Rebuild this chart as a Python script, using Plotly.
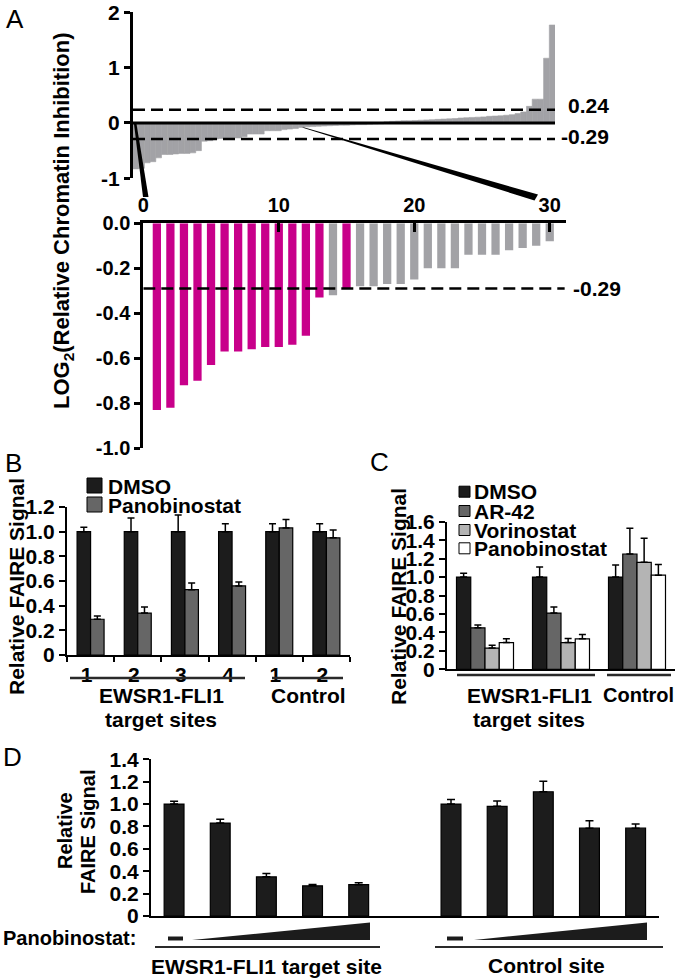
import plotly.graph_objects as go

W, H = 677, 978

# ---------------- DATA ----------------
# Panel A: sorted log2(relative chromatin inhibition) for all sites
a_values = [-0.83, -0.82, -0.72, -0.70, -0.63, -0.57, -0.57, -0.56, -0.55, -0.55,
            -0.54, -0.50, -0.33, -0.32, -0.29, -0.28, -0.28, -0.27, -0.27, -0.25,
            -0.20, -0.20, -0.20, -0.14, -0.14, -0.14, -0.12, -0.11, -0.10, -0.08,
            -0.07, -0.065, -0.06, -0.055, -0.05, -0.045, -0.04, -0.04, -0.035, -0.03,
            -0.03, -0.025, -0.02, -0.015,
            0.02, 0.03, 0.035, 0.04, 0.04, 0.045, 0.05, 0.055, 0.06, 0.065,
            0.07, 0.075, 0.08, 0.09, 0.095, 0.10, 0.105, 0.11, 0.12, 0.125,
            0.13, 0.14, 0.15, 0.17, 0.20, 0.30, 0.43, 0.43, 1.17, 1.77]
a_zoom_n = 30
a_highlight = [1, 2, 3, 4, 5, 6, 7, 8, 9, 10, 11, 12, 13, 15]
a_thresholds = [0.24, -0.29]
a_top_ticks = [-1, 0, 1, 2]
a_top_ticktext = ["-1", "0", "1", "2"]
a_zoom_xticks = [0, 10, 20, 30]
a_zoom_yticks = [0, -0.2, -0.4, -0.6, -0.8, -1.0]
a_zoom_yticktext = ["0.0", "-0.2", "-0.4", "-0.6", "-0.8", "-1.0"]

# Panel B
b_sites = ["1", "2", "3", "4", "1", "2"]
b_dmso = [1.0, 1.0, 1.0, 1.0, 1.0, 1.0]
b_dmso_err = [0.035, 0.11, 0.135, 0.065, 0.065, 0.065]
b_pano = [0.29, 0.34, 0.53, 0.56, 1.03, 0.95]
b_pano_err = [0.027, 0.05, 0.054, 0.032, 0.068, 0.063]
b_yticks = [0, 0.2, 0.4, 0.6, 0.8, 1.0, 1.2]
b_yticktext = ["0", "0.2", "0.4", "0.6", "0.8", "1.0", "1.2"]

# Panel C
c_groups = ["EWSR1-FLI1 site 1", "EWSR1-FLI1 site 2", "Control"]
c_dmso = [1.0, 1.0, 1.0]
c_dmso_err = [0.04, 0.11, 0.13]
c_ar42 = [0.45, 0.61, 1.25]
c_ar42_err = [0.03, 0.065, 0.28]
c_vor = [0.23, 0.29, 1.16]
c_vor_err = [0.03, 0.045, 0.26]
c_pano = [0.29, 0.33, 1.02]
c_pano_err = [0.04, 0.047, 0.115]
c_yticks = [0, 0.2, 0.4, 0.6, 0.8, 1.0, 1.2, 1.4, 1.6]
c_yticktext = ["0", "0.2", "0.4", "0.6", "0.8", "1.0", "1.2", "1.4", "1.6"]

# Panel D (increasing panobinostat dose)
d_ews = [1.0, 0.83, 0.35, 0.27, 0.28]
d_ews_err = [0.025, 0.035, 0.03, 0.012, 0.018]
d_ctrl = [1.0, 0.98, 1.11, 0.785, 0.785]
d_ctrl_err = [0.04, 0.047, 0.095, 0.066, 0.036]
d_yticks = [0, 0.2, 0.4, 0.6, 0.8, 1.0, 1.2, 1.4]
d_yticktext = ["0", "0.2", "0.4", "0.6", "0.8", "1.0", "1.2", "1.4"]

# ---------------- HELPERS ----------------
def X(p):
    return p / W

def Y(p):
    return 1 - p / H

FAM = "Liberation Sans, Arial, Helvetica, sans-serif"

def bf(size):
    return dict(family=FAM, size=size, color="black", weight="bold")

MAGENTA = "#C8008A"
GRAY = "#A2A2A6"
BLACKBAR = "#1c1c1c"
DARKGRAY = "#666666"
LIGHTGRAY = "#B4B4B4"

fig = go.Figure()

# ---- Panel A top ----
fig.add_trace(go.Bar(x=list(range(1, len(a_values) + 1)), y=a_values, width=1.0,
                     marker=dict(color=GRAY, line=dict(color=GRAY, width=0.6)),
                     xaxis="x", yaxis="y", showlegend=False))

# ---- Panel A zoom ----
zoom_x = list(range(1, a_zoom_n + 1))
zoom_colors = [MAGENTA if i in a_highlight else GRAY for i in zoom_x]
fig.add_trace(go.Bar(x=zoom_x, y=a_values[:a_zoom_n], width=0.61,
                     marker=dict(color=zoom_colors, line=dict(width=0)),
                     xaxis="x2", yaxis="y2", showlegend=False))

# ---- Panel B ----
ebar = dict(type="data", symmetric=False, color="black", thickness=1.5, width=3.5)
bx = list(range(len(b_sites)))
fig.add_trace(go.Bar(x=bx, y=b_dmso, width=0.286, offset=-0.286, name="DMSO",
                     marker=dict(color=BLACKBAR, line=dict(color="black", width=1.2)),
                     error_y=dict(ebar, array=b_dmso_err, arrayminus=[0] * 6),
                     xaxis="x3", yaxis="y3", showlegend=False))
fig.add_trace(go.Bar(x=bx, y=b_pano, width=0.286, offset=0.0, name="Panobinostat",
                     marker=dict(color=DARKGRAY, line=dict(color="black", width=1.2)),
                     error_y=dict(ebar, array=b_pano_err, arrayminus=[0] * 6),
                     xaxis="x3", yaxis="y3", showlegend=False))

# ---- Panel C ----
cx = list(range(len(c_groups)))
c_series = [("DMSO", c_dmso, c_dmso_err, BLACKBAR),
            ("AR-42", c_ar42, c_ar42_err, DARKGRAY),
            ("Vorinostat", c_vor, c_vor_err, LIGHTGRAY),
            ("Panobinostat", c_pano, c_pano_err, "white")]
cw = 0.1875
for k, (nm, vals, errs, col) in enumerate(c_series):
    fig.add_trace(go.Bar(x=cx, y=vals, width=cw, offset=-2 * cw + k * cw, name=nm,
                         marker=dict(color=col, line=dict(color="black", width=1.2)),
                         error_y=dict(ebar, array=errs, arrayminus=[0] * 3),
                         xaxis="x4", yaxis="y4", showlegend=False))

# ---- Panel D ----
ebar_d = dict(type="data", symmetric=False, color="black", thickness=1.5, width=4)
fig.add_trace(go.Bar(x=list(range(0, 5)), y=d_ews, width=0.43,
                     marker=dict(color=BLACKBAR, line=dict(color="black", width=1.2)),
                     error_y=dict(ebar_d, array=d_ews_err, arrayminus=[0] * 5),
                     xaxis="x5", yaxis="y5", showlegend=False))
fig.add_trace(go.Bar(x=list(range(6, 11)), y=d_ctrl, width=0.43,
                     marker=dict(color=BLACKBAR, line=dict(color="black", width=1.2)),
                     error_y=dict(ebar_d, array=d_ctrl_err, arrayminus=[0] * 5),
                     xaxis="x5", yaxis="y5", showlegend=False))

# ---------------- AXES ----------------
def yax(domain, rng, anchor, tickvals, ticktext, lw=2, size=20):
    return dict(domain=domain, range=rng, anchor=anchor, showline=True, linewidth=lw,
                linecolor="black", ticks="outside", ticklen=6, tickwidth=lw, tickcolor="black",
                tickvals=tickvals, ticktext=ticktext, tickfont=bf(size), showgrid=False,
                zeroline=False, fixedrange=True, automargin=False)

layout = dict(
    template="none",
    width=W, height=H, margin=dict(l=0, r=0, t=0, b=0, pad=0), autosize=False,
    paper_bgcolor="white", plot_bgcolor="white", barmode="overlay", showlegend=False,
    xaxis=dict(domain=[X(133), X(555)], range=[0.5, len(a_values) + 0.5], anchor="y",
               visible=False, showgrid=False, zeroline=False, automargin=False),
    yaxis=yax([Y(178.3), Y(12.3)], [-1, 2], "x", a_top_ticks, a_top_ticktext, lw=3, size=21),
    xaxis2=dict(domain=[X(143.3), X(566)], range=[0, 31.2], anchor="y2", side="top",
                showline=True, linewidth=3, linecolor="black", ticks="inside", ticklen=9,
                tickwidth=3, tickcolor="black", tickvals=a_zoom_xticks, tickfont=bf(20),
                showgrid=False, zeroline=False, automargin=False),
    yaxis2=yax([Y(448.3), Y(223.3)], [-1, 0], "x2", a_zoom_yticks, a_zoom_yticktext, lw=3, size=20),
    xaxis3=dict(domain=[X(67), X(350)], range=[-0.5, 5.5], anchor="y3", showline=True,
                linewidth=2, linecolor="black", tickvals=bx, ticktext=b_sites, ticks="",
                tickfont=bf(21), ticklabelshift=-4,
                minor=dict(tickvals=[i - 0.5 for i in range(7)], ticks="outside", ticklen=5,
                           tickwidth=2, tickcolor="black", showgrid=False),
                showgrid=False, zeroline=False, automargin=False),
    yaxis3=yax([Y(655), Y(507)], [0, 1.2], "x3", b_yticks, b_yticktext, size=21),
    xaxis4=dict(domain=[X(447), X(675)], range=[-0.5, 2.5], anchor="y4", showline=True,
                linewidth=2, linecolor="black", showticklabels=False, ticks="",
                showgrid=False, zeroline=False, automargin=False),
    yaxis4=yax([Y(669.3), Y(521.7)], [0, 1.6], "x4", c_yticks, c_yticktext, size=21),
    xaxis5=dict(domain=[X(151), X(658.7)], range=[-0.5, 10.5], anchor="y5", showline=True,
                linewidth=2, linecolor="black", showticklabels=False, ticks="",
                showgrid=False, zeroline=False, automargin=False),
    yaxis5=yax([Y(916), Y(759.3)], [0, 1.4], "x5", d_yticks, d_yticktext, size=21),
)
fig.update_layout(**layout)

# ---------------- SHAPES ----------------
shapes = []
DASH = "12px,6px"
shapes.append(dict(type="line", xref="x", yref="y", x0=0.5, x1=len(a_values) + 0.5, y0=0, y1=0,
                   line=dict(color="black", width=3), layer="above"))
for t in a_thresholds:
    shapes.append(dict(type="line", xref="x", yref="y", x0=0.5, x1=len(a_values) + 0.5, y0=t, y1=t,
                       line=dict(color="black", width=2.5, dash=DASH), layer="above"))
shapes.append(dict(type="line", xref="x2", yref="y2", x0=0, x1=31.1, y0=a_thresholds[1],
                   y1=a_thresholds[1], line=dict(color="black", width=2.5, dash=DASH), layer="above"))


def poly(pts, col="black"):
    d = "M " + " L ".join(f"{X(px)},{Y(py)}" for px, py in pts) + " Z"
    return dict(type="path", xref="paper", yref="paper", path=d,
                fillcolor=col, line=dict(width=0), layer="above")


# callout wedges
shapes.append(poly([(134, 124), (136.5, 124), (148.5, 197), (143, 197)]))
shapes.append(poly([(302, 127.5), (304.5, 127.5), (538, 194.5), (534.5, 200.5)]))

# legend swatches B
for (y0, col) in [(478, BLACKBAR), (497, DARKGRAY)]:
    shapes.append(dict(type="rect", xref="paper", yref="paper", x0=X(87), x1=X(102),
                       y0=Y(y0 + 15), y1=Y(y0), fillcolor=col, line=dict(color="black", width=1)))
# legend swatches C
for (yc, col) in [(491.7, BLACKBAR), (511, DARKGRAY), (530, LIGHTGRAY), (548.3, "white")]:
    shapes.append(dict(type="rect", xref="paper", yref="paper", x0=X(459), x1=X(470),
                       y0=Y(yc + 5.5), y1=Y(yc - 5.5), fillcolor=col,
                       line=dict(color="black", width=1)))


def hline(x0, x1, y, w=2.5, col="#2a2a2a"):
    return dict(type="line", xref="paper", yref="paper", x0=X(x0), x1=X(x1), y0=Y(y), y1=Y(y),
                line=dict(color=col, width=w))


shapes += [hline(70, 245, 678), hline(272, 343, 678),
           hline(457, 595, 675), hline(607, 671, 675),
           hline(155, 380, 947, w=2), hline(435, 663, 947, w=2)]

for (d0, d1, t0, t1) in [(168, 183, 192, 370), (447, 463, 474, 647)]:
    shapes.append(dict(type="rect", xref="paper", yref="paper", x0=X(d0), x1=X(d1),
                       y0=Y(940.5), y1=Y(936.5), fillcolor="#1c1c1c", line=dict(width=0)))
    shapes.append(poly([(t0, 940), (t1, 940), (t1, 922.5)], col="#1c1c1c"))

fig.update_layout(shapes=shapes)

# ---------------- ANNOTATIONS ----------------
ann = []


def txt(s, x, y, size, xanchor="center", yanchor="middle", angle=0, bold=True):
    font = bf(size) if bold else dict(family=FAM, size=size, color="black")
    return dict(text=s, x=X(x), y=Y(y), xref="paper", yref="paper", xanchor=xanchor,
                yanchor=yanchor, textangle=angle, showarrow=False, font=font)


ann += [txt("A", 4, 19, 26, xanchor="left", bold=False),
        txt("B", 3, 463, 26, xanchor="left", bold=False),
        txt("C", 368, 462, 26, xanchor="left", bold=False),
        txt("D", 1, 757, 26, xanchor="left", bold=False)]

ann.append(txt("LOG<sub>2</sub>(Relative Chromatin Inhibition)", 63, 221, 22, angle=-90))
ann.append(txt("0.24", 611, 106, 21, xanchor="right"))
ann.append(txt("-0.29", 611, 137, 21, xanchor="right"))
ann.append(txt("-0.29", 623, 288, 21, xanchor="right"))

# B
ann.append(txt("Relative FAIRE Signal", 16, 587, 21, angle=-90))
ann.append(txt("DMSO", 106, 486, 21, xanchor="left"))
ann.append(txt("Panobinostat", 106, 505, 21, xanchor="left"))
ann.append(txt("EWSR1-FLI1", 161, 695, 21))
ann.append(txt("target sites", 161, 719, 21))
ann.append(txt("Control", 308, 695, 21))

# C
ann.append(txt("Relative FAIRE Signal", 398, 597, 21, angle=-90))
for (s, yc) in [("DMSO", 491.7), ("AR-42", 511), ("Vorinostat", 530), ("Panobinostat", 548.3)]:
    ann.append(txt(s, 472, yc, 21, xanchor="left"))
ann.append(txt("EWSR1-FLI1", 529, 695, 21))
ann.append(txt("target sites", 529, 719, 21))
ann.append(txt("Control", 638, 695, 20))

# D
ann.append(txt("Relative", 65, 831, 20, angle=-90))
ann.append(txt("FAIRE Signal", 88, 832, 20, angle=-90))
ann.append(txt("Panobinostat:", 138, 938, 20, xanchor="right"))
ann.append(txt("EWSR1-FLI1 target site", 266, 966, 21))
ann.append(txt("Control site", 546, 965, 21))

fig.update_layout(annotations=ann)

fig.write_html("out.html", config={"displayModeBar": False},
               post_script="document.body.style.margin='0px';")
